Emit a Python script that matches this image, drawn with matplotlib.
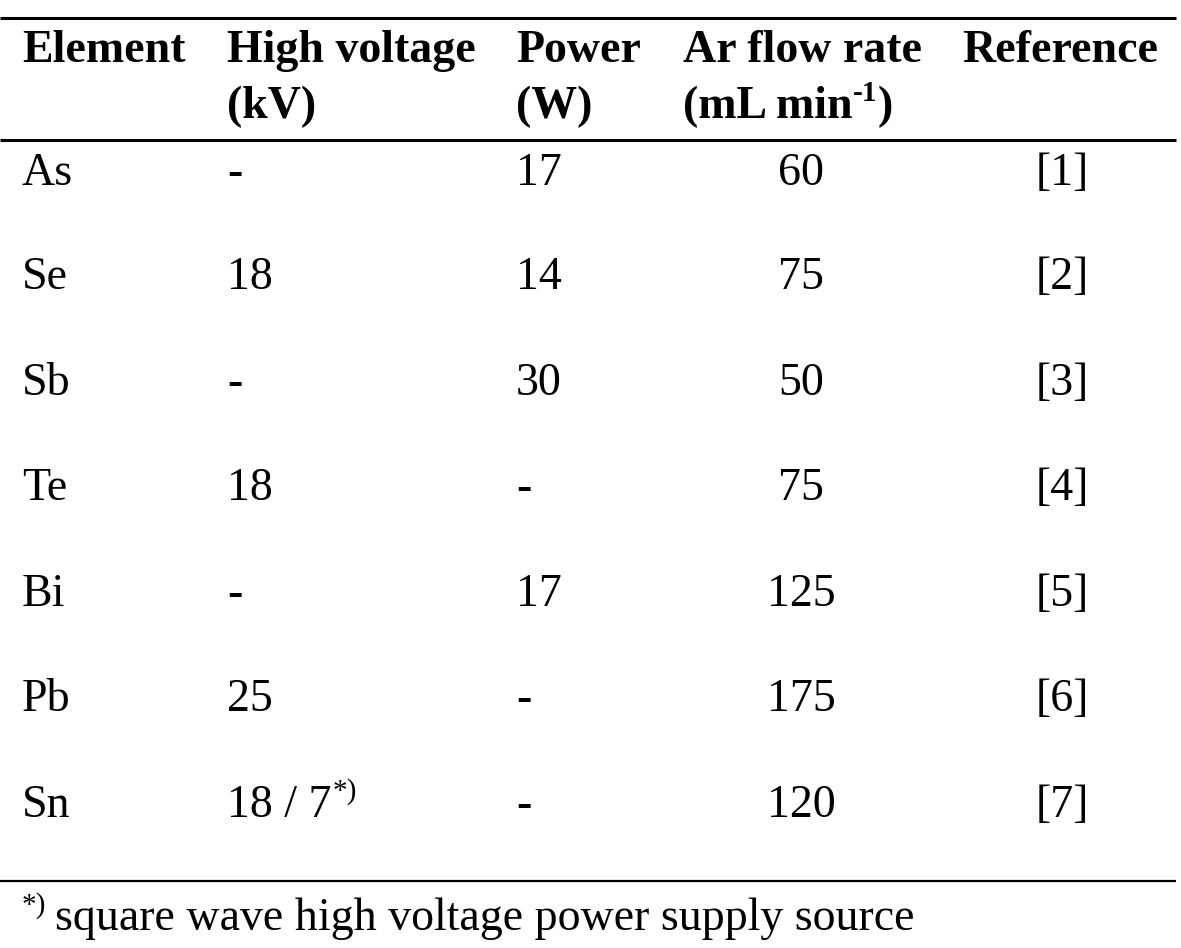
import matplotlib
matplotlib.use('Agg')
import matplotlib.pyplot as plt

# table contents
elements = ['As', 'Se', 'Sb', 'Te', 'Bi', 'Pb', 'Sn']
high_voltage = ['-', '18', '-', '18', '-', '25', '18 / 7']
power = ['17', '14', '30', '-', '17', '-', '-']
ar_flow = ['60', '75', '50', '75', '125', '175', '120']
references = ['[1]', '[2]', '[3]', '[4]', '[5]', '[6]', '[7]']
footnote = 'square wave high voltage power supply source'

plt.rcParams['font.family'] = ['Liberation Serif', 'DejaVu Serif']
FS = 33
SUP = 21

fig = plt.figure(figsize=(11.81, 9.48), dpi=100)
ax = fig.add_axes([0, 0, 1, 1])
ax.set_xlim(0, 1181)
ax.set_ylim(948, 0)
ax.axis('off')
fig.canvas.draw()
renderer = fig.canvas.get_renderer()


def put(x, y, s, ha='left', bold=False, sup=None):
    """Draw a cell text; optionally a superscript right after it."""
    t = ax.text(x, y, s, ha=ha, va='center', fontsize=FS,
                fontweight='bold' if bold else 'normal')
    if sup:
        bb = t.get_window_extent(renderer).transformed(ax.transData.inverted())
        ax.text(bb.x1 + 1, y - 14, sup, ha='left', va='center', fontsize=SUP,
                fontweight='bold' if bold else 'normal')
    return t


# rules
for y, lw in [(18, 2.2), (140, 2.2), (881, 1.6)]:
    ax.plot([0, 1176], [y, y], color='black', lw=lw, solid_capstyle='butt')

# header
y1, y2 = 51, 107
put(22, y1, 'Element', bold=True)
put(227, y1, 'High voltage', bold=True)
put(227, y2, '(kV)', bold=True)
put(516, y1, 'Power', bold=True)
put(516, y2, '(W)', bold=True)
put(683, y1, 'Ar flow rate', bold=True)
t = ax.text(683, y2, '(mL min', ha='left', va='center', fontsize=FS, fontweight='bold')
bb = t.get_window_extent(renderer).transformed(ax.transData.inverted())
s = ax.text(bb.x1, y2 - 14, '-1', ha='left', va='center', fontsize=SUP, fontweight='bold')
bb2 = s.get_window_extent(renderer).transformed(ax.transData.inverted())
ax.text(bb2.x1, y2, ')', ha='left', va='center', fontsize=FS, fontweight='bold')
put(962, y1, 'Reference', bold=True)

# body rows
row_y = [174, 278, 384, 489, 595, 700, 806]
for i, y in enumerate(row_y):
    put(22, y, elements[i])
    put(227, y, high_voltage[i], sup='*)' if elements[i] == 'Sn' else None)
    put(516, y, power[i])
    put(801, y, ar_flow[i], ha='center')
    put(1062, y, references[i], ha='center')

# footnote
ax.text(22, 906, '*)', ha='left', va='center', fontsize=SUP)
ax.text(55, 919, footnote, ha='left', va='center', fontsize=FS)

fig.savefig('out.png', dpi=100)
